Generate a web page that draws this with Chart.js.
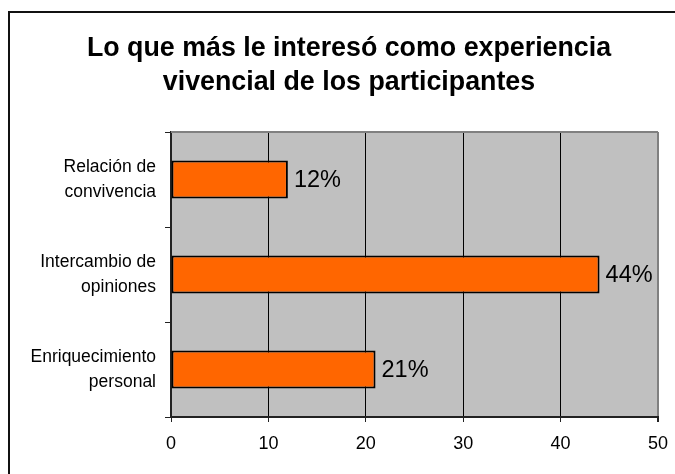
<!DOCTYPE html>
<html>
<head>
<meta charset="utf-8">
<script src="https://cdn.jsdelivr.net/npm/chart.js@4/dist/chart.umd.min.js"></script>
<style>
  body { margin: 0; background: #fff; }
  canvas { display: block; }
</style>
</head>
<body>
<canvas id="myChart" width="675" height="474"></canvas>
<script>
// chart data
const titleLines = ['Lo que más le interesó como experiencia', 'vivencial de los participantes'];
const categories = [['Relación de', 'convivencia'], ['Intercambio de', 'opiniones'], ['Enriquecimiento', 'personal']];
const percentages = [12, 44, 21];
const xTicks = [0, 10, 20, 30, 40, 50];

const FONT = '"Liberation Sans", Arial, sans-serif';

// gray plot background, gray top border, outer frame and the title
const backgroundPlugin = {
  id: 'background',
  beforeDraw(chart) {
    const { ctx, chartArea } = chart;
    ctx.save();
    ctx.fillStyle = '#C0C0C0';
    ctx.fillRect(chartArea.left, chartArea.top, chartArea.right - chartArea.left, chartArea.bottom - chartArea.top);
    ctx.strokeStyle = '#111';
    ctx.lineWidth = 2;
    ctx.beginPath();
    ctx.moveTo(9, 474);
    ctx.lineTo(9, 12);
    ctx.lineTo(675, 12);
    ctx.stroke();
    ctx.restore();
  },
  afterDraw(chart) {
    const { ctx, chartArea } = chart;
    ctx.save();
    ctx.strokeStyle = '#808080';
    ctx.lineWidth = 2;
    ctx.beginPath();
    ctx.moveTo(chartArea.left, chartArea.top);
    ctx.lineTo(chartArea.right, chartArea.top);
    ctx.stroke();

    // title, centred in the frame rather than the canvas
    ctx.font = 'bold 26.8px ' + FONT;
    ctx.fillStyle = '#000';
    ctx.textAlign = 'center';
    ctx.textBaseline = 'alphabetic';
    titleLines.forEach((line, i) => {
      ctx.fillText(line, 349, 56 + i * 34.3);
    });
    ctx.restore();
  }
};

// percentage labels to the right of the bars
const valueLabels = {
  id: 'valueLabels',
  afterDatasetsDraw(chart) {
    const { ctx } = chart;
    const meta = chart.getDatasetMeta(0);
    ctx.save();
    ctx.font = '23.5px ' + FONT;
    ctx.fillStyle = '#000';
    ctx.textAlign = 'left';
    ctx.textBaseline = 'middle';
    meta.data.forEach((bar, i) => {
      ctx.fillText(percentages[i] + '%', bar.x + 6, bar.y + 1);
    });
    ctx.restore();
  }
};

const ctx = document.getElementById('myChart').getContext('2d');
const myChart = new Chart(ctx, {
  type: 'bar',
  data: {
    labels: categories,
    datasets: [{
      data: percentages,
      backgroundColor: '#FF6600',
      borderColor: '#000',
      borderWidth: 2,
      borderSkipped: false,
      barPercentage: 0.4,
      categoryPercentage: 1
    }]
  },
  options: {
    indexAxis: 'y',
    responsive: false,
    animation: false,
    layout: {
      padding: { left: 0, right: 17, top: 132, bottom: 0 }
    },
    plugins: {
      legend: { display: false },
      tooltip: { enabled: false },
      title: { display: false }
    },
    scales: {
      x: {
        min: 0,
        max: 50,
        afterBuildTicks: (scale) => {
          scale.ticks = xTicks.map(v => ({ value: v }));
        },
        afterFit: (scale) => {
          scale.height = 57;
          scale.paddingRight = 0;
          scale.paddingLeft = 0;
        },
        border: { display: true, color: '#222', width: 2 },
        grid: {
          color: (c) => (c.tick && c.tick.value === 50 ? '#808080' : '#000'),
          lineWidth: (c) => (c.tick && c.tick.value === 50 ? 2 : 1),
          tickColor: '#222',
          tickLength: 5
        },
        ticks: {
          color: '#000',
          padding: 11,
          font: { family: FONT, size: 18 }
        }
      },
      y: {
        afterFit: (scale) => { scale.width = 171; },
        border: { display: true, color: '#222', width: 2 },
        grid: {
          offset: true,
          drawOnChartArea: false,
          tickColor: '#222',
          tickLength: 6
        },
        ticks: {
          color: '#000',
          padding: 9,
          font: { family: FONT, size: 17.5, lineHeight: 1.43 }
        }
      }
    }
  },
  plugins: [backgroundPlugin, valueLabels]
});
</script>
</body>
</html>
